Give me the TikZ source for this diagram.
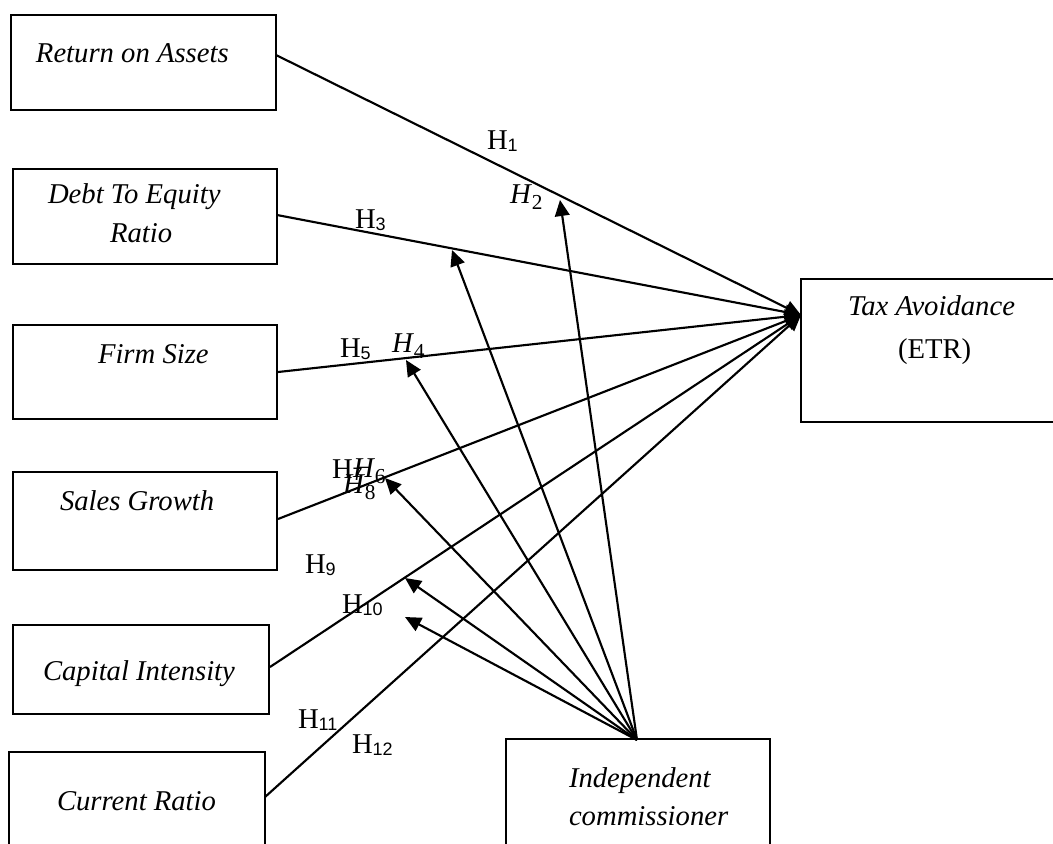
\documentclass[tikz,border=0pt]{standalone}
\usepackage{fontspec}
\setmainfont{Liberation Serif}
\newfontfamily\subf{Liberation Sans}
\usetikzlibrary{arrows.meta}
\newcommand\Hu[1]{H\raisebox{-2.2pt}{\subf\fontsize{13.5}{14}\selectfont #1}}
\newcommand\Hi[1]{\textit{H}\raisebox{-5pt}{\fontsize{16}{18}\selectfont #1}}
\begin{document}
\begin{tikzpicture}[x=0.75pt,y=-0.75pt,
  box/.style={draw, line width=1.1pt, anchor=north west, inner sep=0pt, outer sep=0pt},
  txt/.style={anchor=base west, inner sep=0pt, outer sep=0pt, font=\fontsize{21.5}{24}\selectfont\itshape},
  rtxt/.style={anchor=base west, inner sep=0pt, outer sep=0pt, font=\fontsize{21.5}{24}\selectfont},
  hl/.style={anchor=base west, inner sep=0pt, outer sep=0pt, font=\fontsize{21.5}{24}\selectfont},
  conn/.style={line width=1.6pt, -{Triangle[length=12pt,width=11pt]}},
]
\useasboundingbox (0,0) rectangle (1053,843);
\clip (0,0) rectangle (1053,843);

% boxes
\node[box, minimum width={265*0.75pt}, minimum height={95*0.75pt}] (roa) at (11,15) {};
\node[box, minimum width={264*0.75pt}, minimum height={95*0.75pt}] (der) at (13,169) {};
\node[box, minimum width={264*0.75pt}, minimum height={94*0.75pt}] (fs) at (13,325) {};
\node[box, minimum width={264*0.75pt}, minimum height={98*0.75pt}] (sg) at (13,472) {};
\node[box, minimum width={256*0.75pt}, minimum height={89*0.75pt}] (ci) at (13,625) {};
\node[box, minimum width={256*0.75pt}, minimum height={110*0.75pt}] (cr) at (9,752) {};
\node[box, minimum width={270*0.75pt}, minimum height={143*0.75pt}] (tax) at (801,279) {};
\node[box, minimum width={264*0.75pt}, minimum height={115*0.75pt}] (ic) at (506,739) {};

% box texts
\node[txt] (troa) at (36,62) {Return on Assets};
\node[txt] (tder1) at (48,203) {Debt To Equity};
\node[txt] (tder2) at (110,242) {Ratio};
\node[txt] (tfs) at (98,363) {Firm Size};
\node[txt] (tsg) at (60,510) {Sales Growth};
\node[txt] (tci) at (43,680) {Capital Intensity};
\node[txt] (tcr) at (57,810) {Current Ratio};
\node[txt] (ttax) at (848,315) {Tax Avoidance};
\node[rtxt] (tetr) at (898,358) {(ETR)};
\node[txt] (tic1) at (569,787) {Independent};
\node[txt] (tic2) at (569,825) {commissioner};

% connection points
\coordinate (conv) at (801,315);
\coordinate (sroa) at (276,55);
\coordinate (sder) at (277,215);
\coordinate (sfs) at (278,372);
\coordinate (ssg) at (278,519);
\coordinate (sci) at (270,667);
\coordinate (scr) at (265,797);
\coordinate (sic) at (637,740);
\coordinate (e2) at (560,200);
\coordinate (e3) at (452,250);
\coordinate (e4) at (406,360);
\coordinate (e6) at (385,478);
\coordinate (e10) at (405,578);
\coordinate (e12) at (405,617);

% main paths
\draw[conn] (sroa) -- (conv);
\draw[conn] (sder) -- (conv);
\draw[conn] (sfs) -- (conv);
\draw[conn] (ssg) -- (conv);
\draw[conn] (sci) -- (conv);
\draw[conn] (scr) -- (conv);

% moderation paths
\draw[conn] (sic) -- (e2);
\draw[conn] (sic) -- (e3);
\draw[conn] (sic) -- (e4);
\draw[conn] (sic) -- (e6);
\draw[conn] (sic) -- (e10);
\draw[conn] (sic) -- (e12);

% hypothesis labels
\node[hl] (h1) at (487,149) {\Hu{1}};
\node[hl] (h2) at (510,203) {\Hi{2}};
\node[hl] (h3) at (355,228) {\Hu{3}};
\node[hl] (h5) at (340,357) {\Hu{5}};
\node[hl] (h4) at (392,352) {\Hi{4}};
\node[hl] (h7) at (332,478) {\Hu{7}};
\node[hl] (h6) at (353,477) {\Hi{6}};
\node[hl] (h8) at (343,493) {\Hi{8}};
\node[hl] (h9) at (305,573) {\Hu{9}};
\node[hl] (h10) at (342,613) {\Hu{10}};
\node[hl] (h11) at (298,728) {\Hu{11}};
\node[hl] (h12) at (352,753) {\Hu{12}};
\end{tikzpicture}
\end{document}
